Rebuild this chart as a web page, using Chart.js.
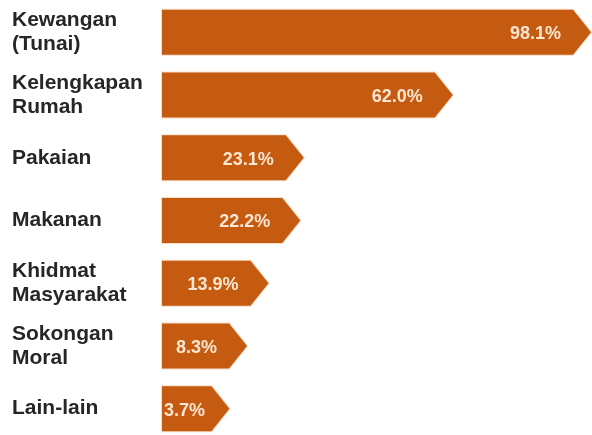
<!DOCTYPE html>
<html>
<head>
<meta charset="utf-8">
<script src="https://cdn.jsdelivr.net/npm/chart.js@4"></script>
<style>
  html, body { margin: 0; padding: 0; background: #fff; overflow: hidden; }
</style>
</head>
<body>
<canvas id="grafikSumbangan" width="592" height="440"></canvas>
<script>
// data dari rajah
const kategori = [['Kewangan', '(Tunai)'], ['Kelengkapan', 'Rumah'], 'Pakaian', 'Makanan', ['Khidmat', 'Masyarakat'], ['Sokongan', 'Moral'], 'Lain-lain'];
const peratus = [98.1, 62.0, 23.1, 22.2, 13.9, 8.3, 3.7];
const paksiMin = -13.9;
const paksiMax = 98.1;

const warnaBar = '#c55a11';
const warnaNilai = '#fde6d2';
const kepalaAnak = 18;

// bar berbentuk anak panah + label nilai
const anakPanah = {
  id: 'anakPanah',
  afterDatasetsDraw(chart) {
    const ctx = chart.ctx;
    const meta = chart.getDatasetMeta(0);
    ctx.save();
    meta.data.forEach(function (bar, i) {
      const p = bar.getProps(['x', 'y', 'base', 'height'], true);
      const atas = p.y - p.height / 2;
      const bawah = p.y + p.height / 2;
      const leher = p.x - kepalaAnak;
      ctx.beginPath();
      ctx.moveTo(p.base, atas);
      ctx.lineTo(leher, atas);
      ctx.lineTo(p.x, p.y);
      ctx.lineTo(leher, bawah);
      ctx.lineTo(p.base, bawah);
      ctx.closePath();
      ctx.lineWidth = 2;
      ctx.strokeStyle = 'rgba(244,177,131,0.45)';
      ctx.stroke();
      ctx.fillStyle = warnaBar;
      ctx.fill();

      const teks = peratus[i].toFixed(1) + '%';
      ctx.font = 'bold 18px "Liberation Sans", Arial, sans-serif';
      const w = ctx.measureText(teks).width;
      const kanan = p.x - 30;
      const kiri = Math.max(p.base + 2, kanan - w);
      ctx.fillStyle = warnaNilai;
      ctx.textAlign = 'left';
      ctx.textBaseline = 'middle';
      ctx.fillText(teks, kiri, p.y + 2);
    });
    ctx.restore();
  }
};

const grafik = document.getElementById('grafikSumbangan');
new Chart(grafik, {
  type: 'bar',
  data: {
    labels: kategori,
    datasets: [{
      data: peratus,
      base: paksiMin,
      backgroundColor: 'rgba(0,0,0,0)',
      barThickness: 45
    }]
  },
  options: {
    indexAxis: 'y',
    responsive: false,
    animation: false,
    devicePixelRatio: 1,
    layout: { padding: { left: 12, right: 1, top: 1, bottom: 0 } },
    plugins: { legend: { display: false }, tooltip: { enabled: false } },
    scales: {
      x: { display: false, min: paksiMin, max: paksiMax },
      y: {
        grid: { display: false },
        border: { display: false },
        ticks: {
          crossAlign: 'far',
          padding: 0,
          color: '#262626',
          font: { family: '"Liberation Sans", Arial, sans-serif', size: 21, weight: 'bold', lineHeight: 1.15 }
        },
        afterFit: function (s) {
          s.width = 150;
          s.paddingTop = 0;
          s.paddingBottom = 0;
        }
      }
    }
  },
  plugins: [anakPanah]
});
</script>
</body>
</html>
